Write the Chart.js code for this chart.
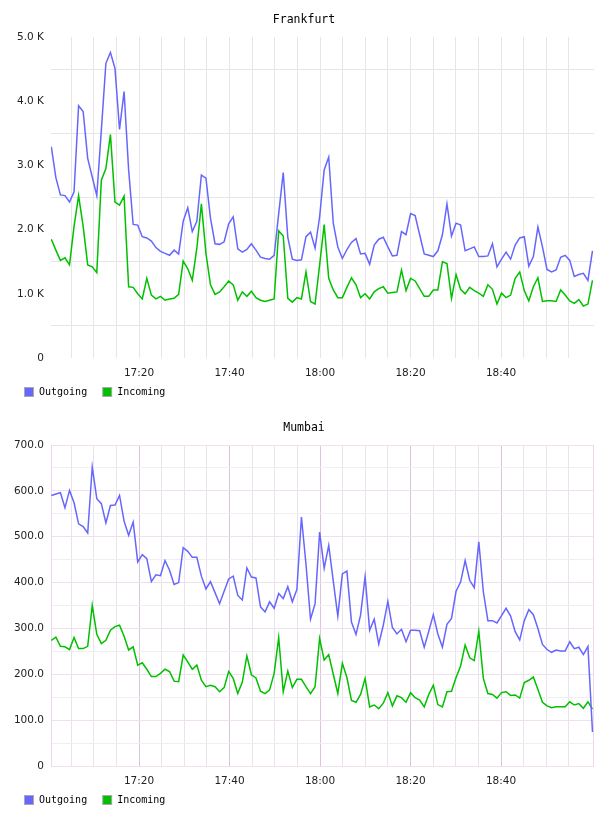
<!DOCTYPE html>
<html><head><meta charset="utf-8">
<script src="https://cdn.jsdelivr.net/npm/chart.js@4.4.1/dist/chart.umd.min.js"></script>
<style>html,body{margin:0;padding:0;background:#fff;}canvas{display:block;}</style>
</head><body>
<canvas id="c1" width="608" height="408"></canvas>
<canvas id="c2" width="608" height="408"></canvas>
<script>
// ---- sample timing (minutes after 17:00) ----
const sampleStartMin = 0.62;
const sampleStepMin = 1.005;

// ---- Frankfurt ----
const frankfurtOutgoing = [3290,2810,2540,2530,2430,2590,3930,3840,3110,2820,
2530,3550,4590,4760,4510,3560,4150,2930,2080,2070,
1890,1870,1820,1720,1660,1630,1600,1680,1620,2130,
2340,1970,2130,2850,2800,2180,1780,1770,1810,2090,
2200,1700,1650,1690,1780,1680,1570,1550,1540,1600,
2250,2890,1880,1540,1520,1530,1890,1960,1710,2200,
2930,3130,2100,1730,1550,1690,1800,1860,1620,1630,
1460,1760,1850,1880,1730,1590,1600,1970,1920,2250,
2220,1920,1620,1600,1580,1670,1920,2400,1900,2100,
2070,1670,1700,1730,1580,1580,1590,1780,1420,1540,
1650,1540,1760,1870,1890,1430,1580,2040,1730,1380,
1340,1370,1570,1600,1520,1270,1300,1320,1210,1670];
const frankfurtIncoming = [1850,1680,1520,1560,1450,2050,2530,2050,1450,1420,
1330,2770,2950,3480,2430,2380,2520,1110,1100,1000,
920,1240,980,920,960,900,920,930,990,1510,
1390,1210,1710,2400,1630,1140,990,1030,1110,1200,
1140,900,1030,960,1040,940,900,880,900,920,
1980,1900,930,870,940,920,1340,880,840,1450,
2080,1240,1060,940,940,1100,1250,1140,940,1000,
920,1030,1080,1110,1010,1020,1030,1370,1050,1240,
1200,1080,960,960,1060,1060,1500,1470,930,1300,
1070,1000,1100,1050,1010,960,1140,1070,840,1010,
940,980,1240,1340,1050,890,1110,1250,880,890,
890,880,1060,980,890,850,910,810,840,1210];

// ---- Mumbai ----
const mumbaiOutgoing = [590,593,596,563,601,574,528,522,508,652,
583,572,530,568,569,590,534,503,532,445,
461,452,402,417,415,448,427,396,400,476,
468,455,455,414,386,402,378,354,381,408,
414,372,362,432,412,410,347,336,358,344,
376,365,391,358,385,543,440,320,354,510,
431,481,403,327,419,425,314,287,329,413,
296,320,266,307,359,302,288,298,271,296,
296,295,259,294,330,288,259,309,322,381,
401,448,405,389,489,380,317,317,312,328,
344,327,293,275,317,341,330,300,265,254,
248,253,251,251,271,256,259,243,261,74];
const mumbaiIncoming = [274,281,261,260,254,280,256,256,261,350,
287,267,274,296,304,307,283,253,260,220,
225,211,195,195,202,211,206,185,184,242,
227,211,220,187,173,176,173,162,171,206,
191,158,183,240,199,192,163,158,166,202,
280,162,207,171,189,189,173,158,173,278,
231,243,200,158,224,193,143,139,156,191,
129,133,125,137,160,131,153,149,139,160,
149,144,129,156,176,134,129,162,163,193,
218,264,236,230,294,191,158,156,148,160,
162,154,155,148,182,187,194,167,139,131,
127,129,129,129,140,133,136,126,140,124];

// ---- axes ----
const xMinMin = 0.55, xMaxMin = 120.55;
const xGridMinutes = [5,10,15,20,25,30,35,40,45,50,55,60,65,70,75,80,85,90,95,100,105,110,115];
const xLabelMinutes = [20,40,60,80,100];
const xLabels = ['17:20','17:40','18:00','18:20','18:40'];

const frankfurtYTicks = [0,500,1000,1500,2000,2500,3000,3500,4000,4500,5000];
const frankfurtYLabelValues = [0,1000,2000,3000,4000,5000];
const frankfurtYLabels = ['0','1.0 K','2.0 K','3.0 K','4.0 K','5.0 K'];

const mumbaiYTicks = [0,50,100,150,200,250,300,350,400,450,500,550,600,650,700];
const mumbaiYLabelValues = [0,100,200,300,400,500,600,700];
const mumbaiYLabels = ['0','100.0','200.0','300.0','400.0','500.0','600.0','700.0'];

const seriesNames = ['Outgoing','Incoming'];
const seriesColors = ['rgb(102,102,255)','rgb(0,192,0)'];

function toPoints(vals){
  return vals.map((v,i)=>({x: sampleStartMin + i*sampleStepMin, y: v}));
}

const legendPlugin = {
  id:'flotLegend',
  afterDraw(chart){
    const ctx = chart.ctx;
    ctx.save();
    ctx.font = '10px "DejaVu Sans Mono", monospace';
    ctx.textBaseline = 'middle';
    ctx.textAlign = 'left';
    let x = 24; const cy = 392;
    chart.data.datasets.forEach(ds=>{
      ctx.fillStyle = '#aaa';
      ctx.fillRect(x, cy-5, 10, 10);
      ctx.fillStyle = ds.borderColor;
      ctx.fillRect(x+1, cy-4, 8, 8);
      ctx.fillStyle = '#000';
      ctx.fillText(ds.label, x+15, cy);
      x += 15 + ctx.measureText(ds.label).width + 15;
    });
    ctx.restore();
  }
};

const framePlugin = {
  id:'frame',
  beforeDatasetsDraw(chart, args, opts){
    if(!opts || !opts.color) return;
    const {left,right,top,bottom} = chart.chartArea;
    const ctx = chart.ctx;
    ctx.save();
    ctx.strokeStyle = opts.color;
    ctx.lineWidth = 1;
    ctx.beginPath();
    ctx.moveTo(Math.floor(left)+0.5, top); ctx.lineTo(Math.floor(left)+0.5, bottom);
    ctx.moveTo(Math.floor(right)-0.5, top); ctx.lineTo(Math.floor(right)-0.5, bottom);
    ctx.stroke();
    ctx.restore();
  }
};

function makeChart(id, title, outVals, inVals, yTicks, yLabelValues, yLabels, yMax, style){
  const tickFont = {family:'"DejaVu Sans", sans-serif', size:10.5};
  new Chart(document.getElementById(id), {
    type:'line',
    data:{datasets:[
      {label:seriesNames[0], data:toPoints(outVals), borderColor:seriesColors[0], backgroundColor:seriesColors[0], borderWidth:1.5, pointRadius:0, tension:0, fill:false},
      {label:seriesNames[1], data:toPoints(inVals), borderColor:seriesColors[1], backgroundColor:seriesColors[1], borderWidth:1.5, pointRadius:0, tension:0, fill:false}
    ]},
    options:{
      responsive:false, animation:false, devicePixelRatio:1,
      layout:{padding:{left:0,right:0,top:0,bottom:26}},
      plugins:{
        legend:{display:false}, tooltip:{enabled:false},
        title:{display:true, text:title, color:'#000',
          font:{family:'"DejaVu Sans Mono", monospace', size:11.5, weight:'normal'},
          padding:{top:13.1, bottom:10.1}},
        frame:{color: style.frame}
      },
      scales:{
        x:{type:'linear', min:xMinMin, max:xMaxMin,
          afterBuildTicks:a=>{a.ticks = xGridMinutes.map(v=>({value:v}));},
          afterFit:a=>{a.height = 24;},
          border:{display:false},
          grid:{drawTicks:false, lineWidth:1, color:c=>style.xGrid(c.tick ? c.tick.value : 0)},
          ticks:{autoSkip:false, maxRotation:0, padding:9, color:'#222', font:tickFont,
            callback:v=>{const k = xLabelMinutes.indexOf(v); return k>=0 ? xLabels[k] : '';}}
        },
        y:{type:'linear', position:'left', min:0, max:yMax,
          afterBuildTicks:a=>{a.ticks = yTicks.map(v=>({value:v}));},
          afterFit:a=>{a.width = 51;},
          border:{display:false},
          grid:{drawTicks:false, lineWidth:1, color:c=>style.yGrid(c.tick ? c.tick.value : 0)},
          ticks:{autoSkip:false, padding:7, color:'#222', font:tickFont,
            callback:v=>{const k = yLabelValues.indexOf(v); return k>=0 ? yLabels[k] : '';}}
        },
        yR:{type:'linear', position:'right', display:true,
          grid:{display:false}, border:{display:false}, ticks:{display:false},
          afterFit:a=>{a.width = 14;}}
      }
    },
    plugins:[legendPlugin, framePlugin]
  });
}

makeChart('c1','Frankfurt', frankfurtOutgoing, frankfurtIncoming,
  frankfurtYTicks, frankfurtYLabelValues, frankfurtYLabels, 5000, {
    xGrid: v=>'#e6e6e6',
    yGrid: v=>(v % 1000 === 500 ? '#e6e6e6' : 'rgba(0,0,0,0)'),
    frame: null
  });

makeChart('c2','Mumbai', mumbaiOutgoing, mumbaiIncoming,
  mumbaiYTicks, mumbaiYLabelValues, mumbaiYLabels, 700, {
    xGrid: v=>(v % 20 === 0 ? '#dcc4dc' : '#ebe3eb'),
    yGrid: v=>(v % 100 === 0 ? '#efdfef' : '#f1eef1'),
    frame: '#ecd8ec'
  });
</script>
</body></html>
